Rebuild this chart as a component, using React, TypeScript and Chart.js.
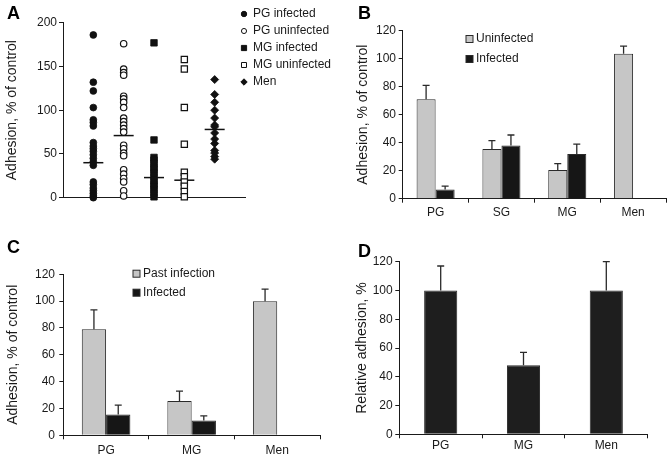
import React, { useEffect, useRef } from 'react';
import { Chart, registerables } from 'chart.js';
import { drawPoint } from 'chart.js/helpers';

Chart.register(...registerables);
Chart.defaults.font.family = '"Liberation Sans", Arial, Helvetica, sans-serif';
Chart.defaults.color = '#1a1a1a';

// ---------- Panel A data ----------
const aGroups = ['PG infected', 'PG uninfected', 'MG infected', 'MG uninfected', 'Men'];
const pgInfected = [186, 132, 122, 103, 89, 86, 82, 63, 59, 56, 53, 49, 45, 41, 37, 18, 15, 11, 8, 5, 2, 0];
const pgUninfected = [176, 147, 143, 140, 116, 113, 109, 103, 91, 87, 83, 79, 75, 60, 56, 51, 48, 32, 27, 22, 18, 8, 2];
const mgInfected = [177, 66, 46, 43, 39, 35, 32, 28, 24, 20, 16, 13, 9, 5, 1];
const mgUninfected = [158, 147, 103, 61, 29, 24, 18, 13, 7, 1];
const menValues = [135, 118, 109, 100, 91, 83, 81, 74, 67, 62, 54, 51, 47, 44];
const groupMeans = [40, 71, 23, 20, 78];

// ---------- Panel B data ----------
const bCategories = ['PG', 'SG', 'MG', 'Men'];
const bUninfected = [71, 35.5, 20.5, 103.5];
const bUninfectedErr = [10, 6, 4.5, 5.5];
const bInfected = [6.5, 38, 32, null];
const bInfectedErr = [2.5, 7.5, 7, null];

// ---------- Panel C data ----------
const cCategories = ['PG', 'MG', 'Men'];
const cPast = [79, 25.5, 100];
const cPastErr = [14.5, 7.5, 9];
const cInfected = [15.5, 11, null];
const cInfectedErr = [7, 3.5, null];

// ---------- Panel D data ----------
const dCategories = ['PG', 'MG', 'Men'];
const dRelative = [100, 48, 100];
const dRelativeErr = [17, 9, 20];

const INK = '#1a1a1a';
const LIGHT = '#c6c6c6';
const DARK = '#161616';

const letterPlugin = {
  id: 'panelLetter',
  afterDraw(chart: any, _a: any, opts: any) {
    const ctx = chart.ctx;
    ctx.save();
    ctx.font = 'bold 18px "Liberation Sans", Arial, sans-serif';
    ctx.fillStyle = '#000';
    ctx.textBaseline = 'middle';
    ctx.textAlign = 'left';
    ctx.fillText(opts.text, opts.x, opts.y);
    ctx.restore();
  },
};

const keyPlugin = {
  id: 'panelKey',
  afterDraw(chart: any, _a: any, opts: any) {
    const ctx = chart.ctx;
    const items = chart.data.datasets.filter((ds: any) => ds.label);
    items.forEach((ds: any, i: number) => {
      const y = opts.y + i * opts.spacing;
      ctx.save();
      ctx.lineWidth = 1;
      ctx.fillStyle = ds.backgroundColor;
      ctx.strokeStyle = ds.borderColor;
      if (opts.mode === 'point') {
        drawPoint(ctx, { pointStyle: ds.pointStyle, radius: ds.pointRadius * 0.8, rotation: 0, borderWidth: 1 }, opts.markerX, y);
      } else {
        ctx.fillRect(opts.markerX - 3.5, y - 3.5, 7, 7);
        ctx.strokeRect(opts.markerX - 3.5, y - 3.5, 7, 7);
      }
      ctx.font = '12px "Liberation Sans", Arial, sans-serif';
      ctx.fillStyle = INK;
      ctx.textBaseline = 'middle';
      ctx.textAlign = 'left';
      ctx.fillText(ds.label, opts.textX, y);
      ctx.restore();
    });
  },
};

const errorBarPlugin = {
  id: 'errorBars',
  afterDatasetsDraw(chart: any) {
    const ctx = chart.ctx;
    const yScale = chart.scales.y;
    chart.data.datasets.forEach((ds: any, di: number) => {
      if (!ds.errors) return;
      const meta = chart.getDatasetMeta(di);
      meta.data.forEach((bar: any, i: number) => {
        const v = ds.data[i];
        const e = ds.errors[i];
        if (v == null || e == null) return;
        const x = bar.x;
        const y0 = yScale.getPixelForValue(v);
        const y1 = yScale.getPixelForValue(v + e);
        ctx.save();
        ctx.strokeStyle = '#2a2a2a';
        ctx.lineWidth = 1.3;
        ctx.beginPath();
        ctx.moveTo(x, y0);
        ctx.lineTo(x, y1);
        ctx.moveTo(x - 3.5, y1);
        ctx.lineTo(x + 3.5, y1);
        ctx.stroke();
        ctx.restore();
      });
    });
  },
};

function yAxis(max: number, step: number, title: string, width: number, titlePad: number, tickPad: number) {
  return {
    min: 0,
    max,
    ticks: { stepSize: step, padding: tickPad, color: INK, font: { size: 12 } },
    grid: { display: true, drawOnChartArea: false, drawTicks: true, tickLength: 4, color: INK, lineWidth: 1 },
    border: { display: true, color: INK, width: 1 },
    title: { display: true, text: title, color: INK, font: { size: 14 }, padding: { top: titlePad, bottom: 0 } },
    afterFit: (s: any) => { s.width = width; },
  };
}

function xCategoryAxis(tickPad: number) {
  return {
    type: 'category',
    offset: true,
    grid: { display: true, drawOnChartArea: false, drawTicks: true, tickLength: 4, color: INK, lineWidth: 1, offset: true },
    border: { display: true, color: INK, width: 1 },
    ticks: { padding: tickPad, color: INK, font: { size: 12 }, maxRotation: 0 },
    afterFit: (s: any) => { s.height = 20; },
  };
}

const baseOptions = (padding: any) => ({
  responsive: false,
  maintainAspectRatio: false,
  animation: false,
  devicePixelRatio: 1,
  events: [],
  layout: { padding },
});

function pointSet(label: string, values: number[], idx: number, style: string, filled: boolean, radius: number) {
  return {
    label,
    data: values.map((v) => ({ x: idx, y: v })),
    pointStyle: style,
    pointRadius: radius,
    backgroundColor: filled ? '#111' : '#fff',
    borderColor: '#111',
    pointBorderWidth: filled ? 0.8 : 1.2,
    showLine: false,
    clip: false,
  };
}

function makeA(): any {
  return {
    type: 'scatter',
    data: {
      datasets: [
        pointSet(aGroups[0], pgInfected, 1, 'circle', true, 3.4),
        pointSet(aGroups[1], pgUninfected, 2, 'circle', false, 3.2),
        pointSet(aGroups[2], mgInfected, 3, 'rect', true, 4.6),
        pointSet(aGroups[3], mgUninfected, 4, 'rect', false, 4.4),
        pointSet(aGroups[4], menValues, 5, 'rectRot', true, 4),
        {
          label: '',
          data: groupMeans.map((m, i) => ({ x: i + 1, y: m })),
          pointStyle: 'line',
          pointRadius: 10,
          borderColor: '#111',
          backgroundColor: '#111',
          pointBorderWidth: 1.5,
          showLine: false,
          clip: false,
        },
      ],
    },
    options: {
      ...baseOptions({ left: 0, top: 22.7, right: 91, bottom: 33.3 }),
      scales: {
        x: {
          type: 'linear', min: 0, max: 6,
          ticks: { display: false },
          grid: { display: false },
          border: { display: true, color: INK, width: 1 },
          afterFit: (s: any) => { s.height = 0; },
        },
        y: yAxis(200, 50, 'Adhesion, % of control', 63, 4, 2),
      },
      plugins: {
        legend: { display: false },
        tooltip: { enabled: false },
        panelLetter: { text: 'A', x: 7, y: 14 },
        panelKey: { mode: 'point', markerX: 244, textX: 253, y: 14, spacing: 17 },
      },
    },
    plugins: [letterPlugin, keyPlugin],
  };
}

function barSet(label: string, values: any[], errors: any[], color: string) {
  return {
    label,
    data: values,
    errors,
    backgroundColor: color,
    borderColor: '#2a2a2a',
    borderWidth: 1,
    categoryPercentage: 0.578,
    barPercentage: 1,
  };
}

function makeB(): any {
  return {
    type: 'bar',
    data: {
      labels: bCategories,
      datasets: [
        barSet('Uninfected', bUninfected, bUninfectedErr, LIGHT),
        barSet('Infected', bInfected, bInfectedErr, DARK),
      ],
    },
    options: {
      ...baseOptions({ left: 0, top: 30.7, right: 6, bottom: 12.3 }),
      scales: {
        x: xCategoryAxis(3),
        y: yAxis(120, 20, 'Adhesion, % of control', 66.7, 19, 2.7),
      },
      plugins: {
        legend: { display: false },
        tooltip: { enabled: false },
        panelLetter: { text: 'B', x: 22, y: 14 },
        panelKey: { mode: 'box', markerX: 133.5, textX: 140, y: 39, spacing: 20 },
      },
    },
    plugins: [letterPlugin, keyPlugin, errorBarPlugin],
  };
}

function makeC(): any {
  const past = barSet('Past infection', cPast, cPastErr, LIGHT);
  const inf = barSet('Infected', cInfected, cInfectedErr, DARK);
  past.categoryPercentage = 0.568;
  inf.categoryPercentage = 0.568;
  return {
    type: 'bar',
    data: { labels: cCategories, datasets: [past, inf] },
    options: {
      ...baseOptions({ left: 0, top: 43.3, right: 16, bottom: 6.7 }),
      scales: {
        x: xCategoryAxis(4.5),
        y: yAxis(120, 20, 'Adhesion, % of control', 63.3, 4.6, 4.3),
      },
      plugins: {
        legend: { display: false },
        tooltip: { enabled: false },
        panelLetter: { text: 'C', x: 7, y: 17.5 },
        panelKey: { mode: 'box', markerX: 136.5, textX: 143, y: 42.7, spacing: 19 },
      },
    },
    plugins: [letterPlugin, keyPlugin, errorBarPlugin],
  };
}

function makeD(): any {
  const rel = barSet('', dRelative, dRelativeErr, '#1e1e1e');
  rel.categoryPercentage = 0.4;
  return {
    type: 'bar',
    data: { labels: dCategories, datasets: [rel] },
    options: {
      ...baseOptions({ left: 0, top: 30.7, right: 24.3, bottom: 7.7 }),
      scales: {
        x: xCategoryAxis(0),
        y: yAxis(120, 20, 'Relative adhesion, %', 63.3, 17.6, 2.6),
      },
      plugins: {
        legend: { display: false },
        tooltip: { enabled: false },
        panelLetter: { text: 'D', x: 22, y: 21 },
      },
    },
    plugins: [letterPlugin, errorBarPlugin],
  };
}

function Panel({ make, left, top }: { make: () => any; left: number; top: number }) {
  const ref = useRef<HTMLCanvasElement>(null);
  useEffect(() => {
    const chart = new Chart(ref.current as HTMLCanvasElement, make());
    return () => chart.destroy();
  }, []);
  return (
    <canvas
      ref={ref}
      width={336}
      height={231}
      style={{ position: 'absolute', left, top, width: 336, height: 231 }}
    />
  );
}

export default function App() {
  return (
    <div style={{ position: 'fixed', left: 0, top: 0, width: 672, height: 462, background: '#fff' }}>
      <Panel make={makeA} left={0} top={0} />
      <Panel make={makeB} left={336} top={0} />
      <Panel make={makeC} left={0} top={231} />
      <Panel make={makeD} left={336} top={231} />
    </div>
  );
}
